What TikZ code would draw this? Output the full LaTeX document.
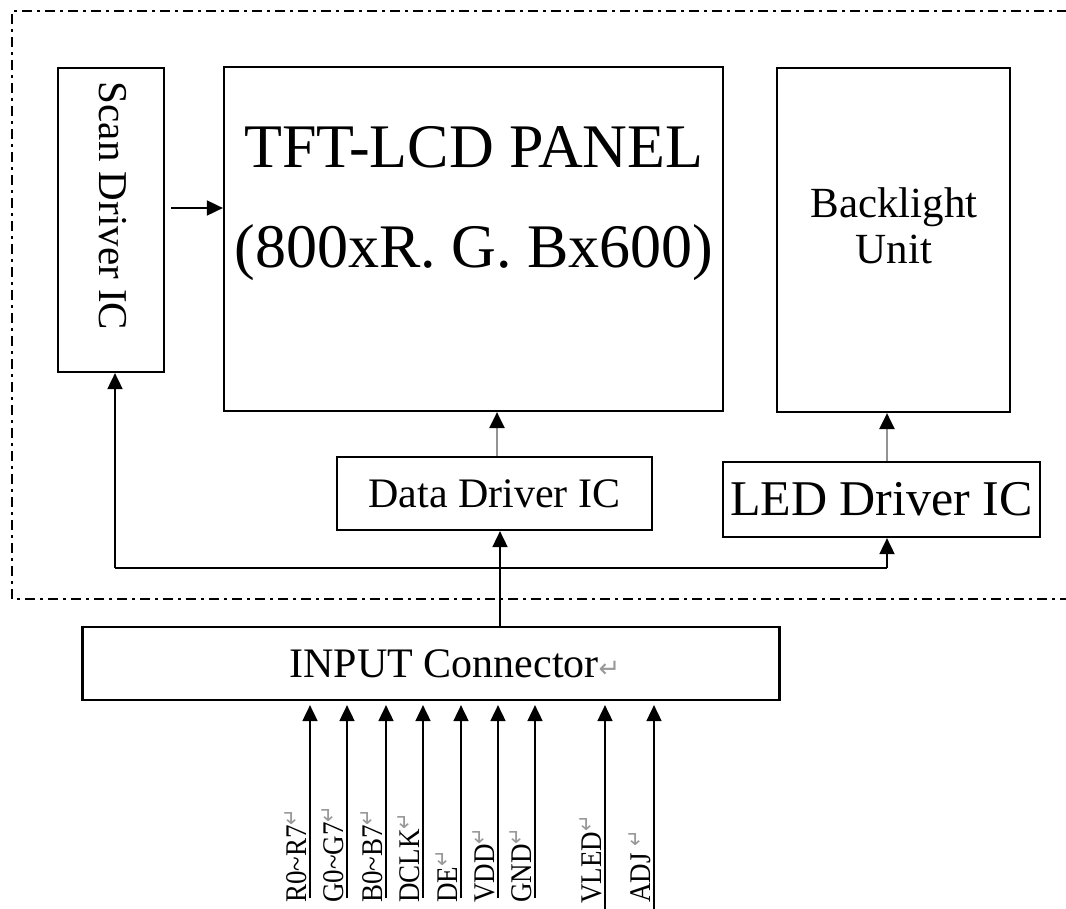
\documentclass[tikz,border=0pt]{standalone}
\usepackage{fontspec}
\setmainfont{Liberation Serif}
\newfontfamily\sigfont{Liberation Serif}
\newfontfamily\symfont{DejaVu Sans}
\usetikzlibrary{arrows.meta,calc}
% grey paragraph-return mark
\newcommand\retmark[1]{{\symfont\fontsize{#1}{#1}\selectfont\color{gray!80}↵}}
\newcommand\sigtext[1]{\scalebox{0.9}[1]{#1\raisebox{8pt}{\retmark{22}}}}

\begin{document}
\begin{tikzpicture}[x=1pt,y=-1pt,
  box/.style={draw, line width=2.2pt, inner sep=0pt},
  txt/.style={inner sep=0pt, align=center},
  link/.style={line width=1.8pt},
  arr/.style={link, -{Triangle[length=16pt,width=15pt]}},
  greyarr/.style={line width=2.4pt, draw=gray!85, -{Triangle[length=16pt,width=15pt,color=black]}},
  frame/.style={line width=2.4pt, dash pattern=on 10pt off 5pt on 3pt off 5pt},
  sig/.style={rotate=90, anchor=base west, inner sep=0pt, font=\sigfont\fontsize{30}{30}\selectfont}
]
\useasboundingbox (0,0) rectangle (1066,908);
\fill[white] (0,0) rectangle (1066,908);

% dash-dot boundary of the module
\draw[frame] (1090,11) -- (12,11) -- (12,599) -- (1090,599);

% blocks
\node[box, minimum width=106pt, minimum height=304pt] (scan) at (111,220) {};
\node[txt, rotate=-90, font=\fontsize{41}{41}\selectfont] (scantxt) at (113,206) {Scan Driver IC};

\node[box, minimum width=499pt, minimum height=344pt] (panel) at (473.5,239) {};
\node[txt, font=\fontsize{62}{100}\selectfont] (paneltxt) at (474,204)
  {TFT-LCD PANEL\\(800xR. G. Bx600)};

\node[box, minimum width=233pt, minimum height=344pt] (back) at (893.5,240) {};
\node[txt, font=\fontsize{43}{46}\selectfont] (backtxt) at (894,226) {Backlight\\Unit};

\node[box, minimum width=315pt, minimum height=73pt, font=\fontsize{42}{42}\selectfont] (data) at (494.5,493.5) {Data Driver IC};
\node[box, minimum width=317pt, minimum height=75pt, font=\fontsize{50}{50}\selectfont] (led) at (881.5,499.5) {LED Driver IC};

\node[box, minimum width=697pt, minimum height=73pt] (input) at (431,663.5) {};
\node[txt, font=\fontsize{42}{42}\selectfont] (inputtxt) at (455,664) {INPUT Connector\retmark{26}};

% connections
\coordinate (sa) at ($(scan.east)+(6,-12)$);
\draw[arr] (sa) -- (sa -| panel.west);

\draw[greyarr] ([xshift=2.5pt]data.north) -- ([xshift=2.5pt]data.north |- panel.south);
\draw[greyarr] ([xshift=5.5pt]led.north) -- ([xshift=5.5pt]led.north |- back.south);

\coordinate (jn) at (500,568);
\coordinate (busL) at (115,568);
\coordinate (busR) at (887,568);
\draw[arr] (jn |- input.north) -- (jn |- data.south);
\draw[link] (busL) -- (busR);
\draw[arr] (busL) -- (busL |- scan.south);
\draw[arr] (busR) -- (busR |- led.south);

% input signals
\foreach \n/\x/\yb/\ly/\lab in {
  r/310/898/903/R0\textasciitilde R7,
  g/347/898/903/G0\textasciitilde G7,
  b/386/898/903/B0\textasciitilde B7,
  ck/423/898/903/DCLK,
  de/461/898/903/DE,
  vdd/498/898/903/VDD,
  gnd/535/898/903/GND,
  vled/605/910/904/VLED,
  adj/654/910/903/ADJ\ }{
  \coordinate (s\n) at (\x,\yb);
  \draw[arr, shorten >=4pt] (s\n) -- (s\n |- input.south);
  \node[sig] (l\n) at (\x-4,\ly) {\sigtext{\lab}};
}
\end{tikzpicture}
\end{document}
